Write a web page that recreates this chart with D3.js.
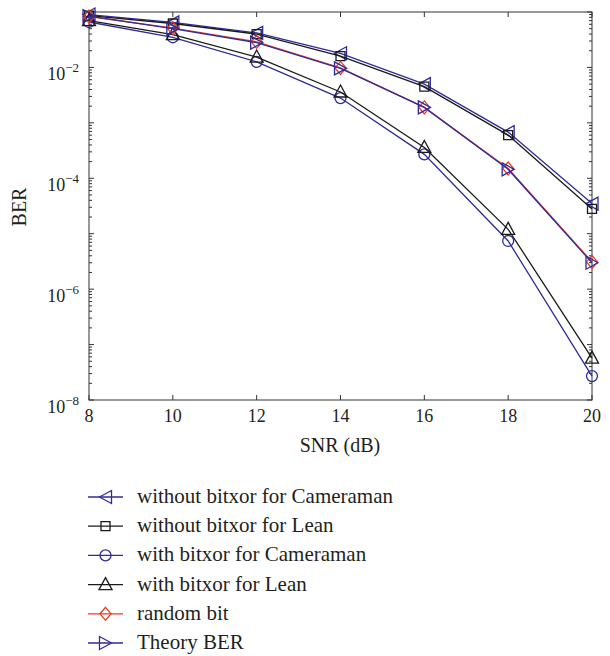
<!DOCTYPE html>
<html>
<head>
<meta charset="utf-8">
<script src="https://cdn.jsdelivr.net/npm/d3@7"></script>
<style>
  body { margin: 0; background: #fff; }
  svg text { font-family: "Liberation Serif", serif; fill: #231f20; }
</style>
</head>
<body>
<svg id="chart" width="610" height="656"></svg>
<script>
// data
var snr = [8, 10, 12, 14, 16, 18, 20];
var woCamera = [0.090, 0.065, 0.042, 0.018, 0.0050, 6.8e-4, 3.5e-5];
var woLean = [0.086, 0.062, 0.040, 0.016, 0.0045, 6.0e-4, 2.8e-5];
var wCamera = [0.066, 0.035, 0.0126, 0.0028, 2.7e-4, 7.4e-6, 2.7e-8];
var wLean = [0.070, 0.039, 0.0154, 0.0036, 3.6e-4, 1.2e-5, 5.7e-8];
var randomBit = [0.083, 0.051, 0.029, 0.0098, 0.0019, 1.5e-4, 3.1e-6];
var theory = [0.084, 0.050, 0.028, 0.0096, 0.0019, 1.45e-4, 3.0e-6];
var xTicks = [8, 10, 12, 14, 16, 18, 20];
var yLabelExp = [-2, -4, -6, -8];

var blue = "#2f2c9a", black = "#1a1a1a", red = "#f23a1e";

var series = [
  { name: "without bitxor for Cameraman", values: woCamera, color: blue, marker: "triLeft" },
  { name: "without bitxor for Lean", values: woLean, color: black, marker: "square" },
  { name: "with bitxor for Cameraman", values: wCamera, color: blue, marker: "circle" },
  { name: "with bitxor for Lean", values: wLean, color: black, marker: "triUp" },
  { name: "random bit", values: randomBit, color: red, marker: "diamond" },
  { name: "Theory BER", values: theory, color: blue, marker: "triRight" }
];

var svg = d3.select("#chart");
var pLeft = 89, pRight = 592, pTop = 12, pBottom = 400;

var x = d3.scaleLinear().domain([8, 20]).range([pLeft, pRight]);
var y = d3.scaleLog().domain([1e-8, 1e-1]).range([pBottom, pTop]);

// box
svg.append("rect")
  .attr("x", pLeft).attr("y", pTop)
  .attr("width", pRight - pLeft).attr("height", pBottom - pTop)
  .attr("fill", "none").attr("stroke", "#333").attr("stroke-width", 1);

// ticks on all four sides (inward)
var ax = svg.append("g").attr("stroke", "#333").attr("stroke-width", 1);
xTicks.forEach(function (t) {
  ax.append("line").attr("x1", x(t)).attr("x2", x(t)).attr("y1", pBottom).attr("y2", pBottom - 5);
  ax.append("line").attr("x1", x(t)).attr("x2", x(t)).attr("y1", pTop).attr("y2", pTop + 5);
});
for (var e = -8; e <= -1; e++) {
  var v = Math.pow(10, e);
  ax.append("line").attr("x1", pLeft).attr("x2", pLeft + 5).attr("y1", y(v)).attr("y2", y(v));
  ax.append("line").attr("x1", pRight).attr("x2", pRight - 5).attr("y1", y(v)).attr("y2", y(v));
  if (e < -1) {
    for (var m = 2; m <= 9; m++) {
      var mv = m * v;
      ax.append("line").attr("x1", pLeft).attr("x2", pLeft + 3).attr("y1", y(mv)).attr("y2", y(mv));
      ax.append("line").attr("x1", pRight).attr("x2", pRight - 3).attr("y1", y(mv)).attr("y2", y(mv));
    }
  }
}

// x tick labels
svg.append("g").selectAll("text").data(xTicks).enter().append("text")
  .attr("x", function (d) { return x(d); })
  .attr("y", 422)
  .attr("text-anchor", "middle")
  .attr("font-size", 18)
  .text(function (d) { return d; });

// y tick labels 10^e
var yl = svg.append("g").selectAll("text").data(yLabelExp).enter().append("text")
  .attr("x", 79)
  .attr("y", function (d) { return y(Math.pow(10, d)) + 13; })
  .attr("text-anchor", "end")
  .attr("font-size", 18);
yl.append("tspan").text("10");
yl.append("tspan").attr("dy", -8).attr("font-size", 13).text(function (d) { return "\u2212" + (-d); });

// axis titles
svg.append("text").attr("x", 340).attr("y", 452).attr("text-anchor", "middle")
  .attr("font-size", 20).text("SNR (dB)");
svg.append("text").attr("transform", "translate(26,207) rotate(-90)").attr("text-anchor", "middle")
  .attr("font-size", 20).text("BER");

function markerPath(kind) {
  switch (kind) {
    case "triLeft": return "M-6,0L6,-6.5L6,6.5Z";
    case "triRight": return "M6,0L-6,-6.5L-6,6.5Z";
    case "triUp": return "M0,-7L6.5,5L-6.5,5Z";
    case "square": return "M-4.5,-4.5H4.5V4.5H-4.5Z";
    case "diamond": return "M0,-6.5L5.5,0L0,6.5L-5.5,0Z";
    case "circle": return d3.symbol().type(d3.symbolCircle).size(Math.PI * 30)();
  }
}

var line = d3.line()
  .x(function (d, i) { return x(snr[i]); })
  .y(function (d) { return y(d); });

series.forEach(function (s) {
  var g = svg.append("g");
  g.append("path").datum(s.values)
    .attr("d", line)
    .attr("fill", "none")
    .attr("stroke", s.color)
    .attr("stroke-width", 1.3);
  g.selectAll("path.mk").data(s.values).enter().append("path")
    .attr("class", "mk")
    .attr("transform", function (d, i) { return "translate(" + x(snr[i]) + "," + y(d) + ")"; })
    .attr("d", markerPath(s.marker))
    .attr("fill", "none")
    .attr("stroke", s.color)
    .attr("stroke-width", 1.3);
});

// legend
var leg = svg.append("g");
series.forEach(function (s, i) {
  var ly = 497 + i * 29.2;
  leg.append("line").attr("x1", 88).attr("x2", 123).attr("y1", ly).attr("y2", ly)
    .attr("stroke", s.color).attr("stroke-width", 1.3);
  leg.append("path").attr("transform", "translate(105.5," + ly + ")")
    .attr("d", markerPath(s.marker))
    .attr("fill", "none").attr("stroke", s.color).attr("stroke-width", 1.3);
  leg.append("text").attr("x", 137).attr("y", ly + 6)
    .attr("font-size", 21).text(s.name);
});
</script>
</body>
</html>
